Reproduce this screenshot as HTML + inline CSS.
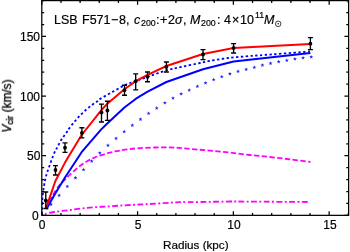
<!DOCTYPE html>
<html><head><meta charset="utf-8"><style>
html,body{margin:0;padding:0;background:#fff}
body{width:350px;height:252px;position:relative;overflow:hidden;font-family:"Liberation Sans",sans-serif;color:#000}
.t{position:absolute;white-space:nowrap;line-height:1;will-change:transform;-webkit-text-stroke:0.2px #000}
.tk{font-size:12px}
.xl{top:219.15px;transform:translateX(-50%)}
.yl{transform:translateY(-50%)}
#ylab sub{font-size:8.5px;line-height:0;font-style:normal;vertical-align:-2.4px}
</style></head><body>
<svg width="350" height="252" viewBox="0 0 350 252" style="position:absolute;left:0;top:0"><defs><clipPath id="cp"><rect x="41.8" y="0.6" width="306.85" height="214.75"/></clipPath></defs><g clip-path="url(#cp)" fill="none"><path d="M45.00,213.90 C46.50,213.58 49.83,212.65 54.00,212.00 C58.17,211.35 64.00,210.73 70.00,210.00 C76.00,209.27 83.33,208.22 90.00,207.60 C96.67,206.98 103.33,206.73 110.00,206.30 C116.67,205.87 123.33,205.38 130.00,205.00 C136.67,204.62 143.33,204.38 150.00,204.00 C156.67,203.62 165.00,203.00 170.00,202.70 C175.00,202.40 175.00,202.32 180.00,202.20 C185.00,202.08 191.67,202.12 200.00,202.00 C208.33,201.88 221.67,201.57 230.00,201.50 C238.33,201.43 237.00,201.52 250.00,201.60 C263.00,201.68 298.33,201.93 308.00,202.00" stroke="#ff00ff" stroke-width="1.8" stroke-dasharray="2,2.4,5.85,2.4"/><path d="M46.00,209.00 C46.83,207.25 49.33,201.67 51.00,198.50 C52.67,195.33 54.42,192.42 56.00,190.00 C57.58,187.58 58.97,185.77 60.50,184.00 C62.03,182.23 63.62,180.97 65.20,179.40 C66.78,177.83 68.20,176.30 70.00,174.60 C71.80,172.90 74.00,170.90 76.00,169.20 C78.00,167.50 80.00,165.80 82.00,164.40 C84.00,163.00 86.00,161.90 88.00,160.80 C90.00,159.70 92.00,158.67 94.00,157.80 C96.00,156.93 97.33,156.47 100.00,155.60 C102.67,154.73 106.67,153.45 110.00,152.60 C113.33,151.75 115.00,151.25 120.00,150.50 C125.00,149.75 131.67,148.62 140.00,148.10 C148.33,147.58 161.67,147.25 170.00,147.40 C178.33,147.55 183.33,148.47 190.00,149.00 C196.67,149.53 203.33,150.00 210.00,150.60 C216.67,151.20 223.33,151.87 230.00,152.60 C236.67,153.33 243.33,154.27 250.00,155.00 C256.67,155.73 263.33,156.27 270.00,157.00 C276.67,157.73 283.27,158.57 290.00,159.40 C296.73,160.23 307.00,161.57 310.40,162.00" stroke="#ff00ff" stroke-width="1.8" stroke-dasharray="5.4,2.38"/><g fill="#1f1fff" stroke="none"><path d="M311.20,54.90 L311.70,56.31 L313.20,56.35 L312.01,57.26 L312.43,58.70 L311.20,57.85 L309.97,58.70 L310.39,57.26 L309.20,56.35 L310.70,56.31Z"/><path d="M303.07,55.80 L303.57,57.21 L305.07,57.25 L303.88,58.16 L304.30,59.60 L303.07,58.75 L301.84,59.60 L302.26,58.16 L301.07,57.25 L302.57,57.21Z"/><path d="M294.94,56.90 L295.44,58.31 L296.94,58.35 L295.75,59.26 L296.17,60.70 L294.94,59.85 L293.71,60.70 L294.13,59.26 L292.94,58.35 L294.44,58.31Z"/><path d="M286.81,58.30 L287.31,59.71 L288.81,59.75 L287.62,60.66 L288.04,62.10 L286.81,61.25 L285.58,62.10 L286.00,60.66 L284.81,59.75 L286.31,59.71Z"/><path d="M278.68,59.60 L279.18,61.01 L280.68,61.05 L279.49,61.96 L279.91,63.40 L278.68,62.55 L277.45,63.40 L277.87,61.96 L276.68,61.05 L278.18,61.01Z"/><path d="M270.55,61.20 L271.05,62.61 L272.55,62.65 L271.36,63.56 L271.78,65.00 L270.55,64.15 L269.32,65.00 L269.74,63.56 L268.55,62.65 L270.05,62.61Z"/><path d="M262.42,63.10 L262.92,64.51 L264.42,64.55 L263.23,65.46 L263.65,66.90 L262.42,66.05 L261.19,66.90 L261.61,65.46 L260.42,64.55 L261.92,64.51Z"/><path d="M254.29,65.30 L254.79,66.71 L256.29,66.75 L255.10,67.66 L255.52,69.10 L254.29,68.25 L253.06,69.10 L253.48,67.66 L252.29,66.75 L253.79,66.71Z"/><path d="M246.16,67.30 L246.66,68.71 L248.16,68.75 L246.97,69.66 L247.39,71.10 L246.16,70.25 L244.93,71.10 L245.35,69.66 L244.16,68.75 L245.66,68.71Z"/><path d="M238.03,69.30 L238.53,70.71 L240.03,70.75 L238.84,71.66 L239.26,73.10 L238.03,72.25 L236.80,73.10 L237.22,71.66 L236.03,70.75 L237.53,70.71Z"/><path d="M229.90,71.70 L230.40,73.11 L231.90,73.15 L230.71,74.06 L231.13,75.50 L229.90,74.65 L228.67,75.50 L229.09,74.06 L227.90,73.15 L229.40,73.11Z"/><path d="M221.77,74.50 L222.27,75.91 L223.77,75.95 L222.58,76.86 L223.00,78.30 L221.77,77.45 L220.54,78.30 L220.96,76.86 L219.77,75.95 L221.27,75.91Z"/><path d="M213.64,77.50 L214.14,78.91 L215.64,78.95 L214.45,79.86 L214.87,81.30 L213.64,80.45 L212.41,81.30 L212.83,79.86 L211.64,78.95 L213.14,78.91Z"/><path d="M205.51,80.90 L206.01,82.31 L207.51,82.35 L206.32,83.26 L206.74,84.70 L205.51,83.85 L204.28,84.70 L204.70,83.26 L203.51,82.35 L205.01,82.31Z"/><path d="M197.38,84.30 L197.88,85.71 L199.38,85.75 L198.19,86.66 L198.61,88.10 L197.38,87.25 L196.15,88.10 L196.57,86.66 L195.38,85.75 L196.88,85.71Z"/><path d="M189.25,88.00 L189.75,89.41 L191.25,89.45 L190.06,90.36 L190.48,91.80 L189.25,90.95 L188.02,91.80 L188.44,90.36 L187.25,89.45 L188.75,89.41Z"/><path d="M181.12,91.80 L181.62,93.21 L183.12,93.25 L181.93,94.16 L182.35,95.60 L181.12,94.75 L179.89,95.60 L180.31,94.16 L179.12,93.25 L180.62,93.21Z"/><path d="M172.99,96.00 L173.49,97.41 L174.99,97.45 L173.80,98.36 L174.22,99.80 L172.99,98.95 L171.76,99.80 L172.18,98.36 L170.99,97.45 L172.49,97.41Z"/><path d="M164.86,100.80 L165.36,102.21 L166.86,102.25 L165.67,103.16 L166.09,104.60 L164.86,103.75 L163.63,104.60 L164.05,103.16 L162.86,102.25 L164.36,102.21Z"/><path d="M156.73,106.00 L157.23,107.41 L158.73,107.45 L157.54,108.36 L157.96,109.80 L156.73,108.95 L155.50,109.80 L155.92,108.36 L154.73,107.45 L156.23,107.41Z"/><path d="M148.60,111.30 L149.10,112.71 L150.60,112.75 L149.41,113.66 L149.83,115.10 L148.60,114.25 L147.37,115.10 L147.79,113.66 L146.60,112.75 L148.10,112.71Z"/><path d="M140.47,117.20 L140.97,118.61 L142.47,118.65 L141.28,119.56 L141.70,121.00 L140.47,120.15 L139.24,121.00 L139.66,119.56 L138.47,118.65 L139.97,118.61Z"/><path d="M132.34,123.20 L132.84,124.61 L134.34,124.65 L133.15,125.56 L133.57,127.00 L132.34,126.15 L131.11,127.00 L131.53,125.56 L130.34,124.65 L131.84,124.61Z"/><path d="M124.21,129.50 L124.71,130.91 L126.21,130.95 L125.02,131.86 L125.44,133.30 L124.21,132.45 L122.98,133.30 L123.40,131.86 L122.21,130.95 L123.71,130.91Z"/><path d="M116.08,136.30 L116.58,137.71 L118.08,137.75 L116.89,138.66 L117.31,140.10 L116.08,139.25 L114.85,140.10 L115.27,138.66 L114.08,137.75 L115.58,137.71Z"/><path d="M107.95,143.30 L108.45,144.71 L109.95,144.75 L108.76,145.66 L109.18,147.10 L107.95,146.25 L106.72,147.10 L107.14,145.66 L105.95,144.75 L107.45,144.71Z"/><path d="M99.82,150.90 L100.32,152.31 L101.82,152.35 L100.63,153.26 L101.05,154.70 L99.82,153.85 L98.59,154.70 L99.01,153.26 L97.82,152.35 L99.32,152.31Z"/><path d="M91.69,159.10 L92.19,160.51 L93.69,160.55 L92.50,161.46 L92.92,162.90 L91.69,162.05 L90.46,162.90 L90.88,161.46 L89.69,160.55 L91.19,160.51Z"/><path d="M83.56,167.50 L84.06,168.91 L85.56,168.95 L84.37,169.86 L84.79,171.30 L83.56,170.45 L82.33,171.30 L82.75,169.86 L81.56,168.95 L83.06,168.91Z"/><path d="M75.43,175.70 L75.93,177.11 L77.43,177.15 L76.24,178.06 L76.66,179.50 L75.43,178.65 L74.20,179.50 L74.62,178.06 L73.43,177.15 L74.93,177.11Z"/><path d="M67.30,184.40 L67.80,185.81 L69.30,185.85 L68.11,186.76 L68.53,188.20 L67.30,187.35 L66.07,188.20 L66.49,186.76 L65.30,185.85 L66.80,185.81Z"/><path d="M59.17,193.30 L59.67,194.71 L61.17,194.75 L59.98,195.66 L60.40,197.10 L59.17,196.25 L57.94,197.10 L58.36,195.66 L57.17,194.75 L58.67,194.71Z"/><path d="M51.04,202.30 L51.54,203.71 L53.04,203.75 L51.85,204.66 L52.27,206.10 L51.04,205.25 L49.81,206.10 L50.23,204.66 L49.04,203.75 L50.54,203.71Z"/></g><path d="M41.90,214.50 C41.98,211.92 42.05,203.75 42.40,199.00 C42.75,194.25 43.47,189.50 44.00,186.00 C44.53,182.50 45.02,180.42 45.60,178.00 C46.18,175.58 46.68,174.00 47.50,171.50 C48.32,169.00 49.58,165.58 50.50,163.00 C51.42,160.42 52.17,158.08 53.00,156.00 C53.83,153.92 54.75,152.00 55.50,150.50 C56.25,149.00 56.58,148.70 57.50,147.00 C58.42,145.30 59.92,142.13 61.00,140.30 C62.08,138.47 62.97,137.47 64.00,136.00 C65.03,134.53 66.37,132.73 67.20,131.50 C68.03,130.27 67.80,130.22 69.00,128.60 C70.20,126.98 72.50,124.03 74.40,121.80 C76.30,119.57 78.30,117.33 80.40,115.20 C82.50,113.07 84.90,110.83 87.00,109.00 C89.10,107.17 91.20,105.53 93.00,104.20 C94.80,102.87 96.57,101.90 97.80,101.00 C99.03,100.10 97.87,100.37 100.40,98.80 C102.93,97.23 108.90,93.90 113.00,91.60 C117.10,89.30 121.40,86.70 125.00,85.00 C128.60,83.30 131.27,82.60 134.60,81.40 C137.93,80.20 139.77,79.62 145.00,77.80 C150.23,75.98 159.83,72.35 166.00,70.50 C172.17,68.65 176.33,67.95 182.00,66.70 C187.67,65.45 195.33,63.98 200.00,63.00 C204.67,62.02 205.00,61.67 210.00,60.80 C215.00,59.93 223.33,58.60 230.00,57.80 C236.67,57.00 245.00,56.42 250.00,56.00 C255.00,55.58 250.00,56.05 260.00,55.30 C270.00,54.55 301.67,52.13 310.00,51.50" stroke="#0000ff" stroke-width="1.8" stroke-dasharray="2.4,2.4"/><polyline points="46.5,209.0 55.4,193.3 65.0,177.5 81.6,152.2 101.0,129.6 107.0,123.8 124.4,107.5 136.0,98.7 147.6,91.6 166.4,82.0 203.0,69.2 233.6,61.5 310.4,53.0" stroke="#0000ff" stroke-width="2" stroke-linejoin="round"/><polyline points="46.3,207.3 55.4,181.0 65.0,162.6 81.6,135.0 101.0,110.6 107.0,104.0 124.4,89.3 136.0,81.0 147.6,74.8 166.4,66.0 203.0,54.0 233.6,48.0 310.4,44.0" stroke="#ff0000" stroke-width="2" stroke-linejoin="round"/><g stroke="#000" stroke-width="1.35" fill="#000"><path d="M45.8,192.0V208.5M43.3,192.0H48.3M43.3,208.5H48.3"/><ellipse cx="45.8" cy="200.4" rx="1.9" ry="2.0" stroke="none"/><path d="M55.5,165.6V175.0M53.0,165.6H58.0M53.0,175.0H58.0"/><ellipse cx="55.5" cy="170.0" rx="1.9" ry="2.0" stroke="none"/><path d="M65.0,142.8V152.4M62.5,142.8H67.5M62.5,152.4H67.5"/><ellipse cx="65.0" cy="147.8" rx="1.9" ry="2.0" stroke="none"/><path d="M81.9,127.7V137.9M79.4,127.7H84.4M79.4,137.9H84.4"/><ellipse cx="81.9" cy="133.1" rx="1.9" ry="2.0" stroke="none"/><path d="M101.5,104.1V122.0M99.0,104.1H104.0M99.0,122.0H104.0"/><ellipse cx="101.5" cy="112.4" rx="1.9" ry="2.0" stroke="none"/><path d="M107.4,101.2V120.3M104.9,101.2H109.9M104.9,120.3H109.9"/><ellipse cx="107.4" cy="110.5" rx="1.9" ry="2.0" stroke="none"/><path d="M124.5,85.2V95.2M122.0,85.2H127.0M122.0,95.2H127.0"/><ellipse cx="124.5" cy="90.3" rx="1.9" ry="2.0" stroke="none"/><path d="M135.7,73.9V89.8M133.2,73.9H138.2M133.2,89.8H138.2"/><ellipse cx="135.7" cy="81.3" rx="1.9" ry="2.0" stroke="none"/><path d="M147.5,72.0V81.7M145.0,72.0H150.0M145.0,81.7H150.0"/><ellipse cx="147.5" cy="76.8" rx="1.9" ry="2.0" stroke="none"/><path d="M166.4,62.0V72.0M163.9,62.0H168.9M163.9,72.0H168.9"/><ellipse cx="166.4" cy="67.0" rx="1.9" ry="2.0" stroke="none"/><path d="M203.0,49.6V59.6M200.5,49.6H205.5M200.5,59.6H205.5"/><ellipse cx="203.0" cy="54.6" rx="1.9" ry="2.0" stroke="none"/><path d="M233.6,43.6V53.0M231.1,43.6H236.1M231.1,53.0H236.1"/><ellipse cx="233.6" cy="48.0" rx="1.9" ry="2.0" stroke="none"/><path d="M310.4,37.6V49.6M307.9,37.6H312.9M307.9,49.6H312.9"/><ellipse cx="310.4" cy="43.8" rx="1.9" ry="2.0" stroke="none"/></g></g><g stroke="#000" stroke-width="1.25" fill="none"><rect x="41.8" y="0.6" width="306.84999999999997" height="214.75"/><path d="M41.80,215.35v-4.2M41.80,0.6v4.2M60.96,215.35v-2.4M60.96,0.6v2.4M80.11,215.35v-2.4M80.11,0.6v2.4M99.27,215.35v-2.4M99.27,0.6v2.4M118.43,215.35v-2.4M118.43,0.6v2.4M137.58,215.35v-4.2M137.58,0.6v4.2M156.74,215.35v-2.4M156.74,0.6v2.4M175.90,215.35v-2.4M175.90,0.6v2.4M195.06,215.35v-2.4M195.06,0.6v2.4M214.21,215.35v-2.4M214.21,0.6v2.4M233.37,215.35v-4.2M233.37,0.6v4.2M252.53,215.35v-2.4M252.53,0.6v2.4M271.68,215.35v-2.4M271.68,0.6v2.4M290.84,215.35v-2.4M290.84,0.6v2.4M310.00,215.35v-2.4M310.00,0.6v2.4M329.16,215.35v-4.2M329.16,0.6v4.2M348.31,215.35v-2.4M348.31,0.6v2.4M41.8,215.35h4.2M348.65,215.35h-4.2M41.8,203.42h2.4M348.65,203.42h-2.4M41.8,191.50h2.4M348.65,191.50h-2.4M41.8,179.57h2.4M348.65,179.57h-2.4M41.8,167.64h2.4M348.65,167.64h-2.4M41.8,155.71h4.2M348.65,155.71h-4.2M41.8,143.79h2.4M348.65,143.79h-2.4M41.8,131.86h2.4M348.65,131.86h-2.4M41.8,119.93h2.4M348.65,119.93h-2.4M41.8,108.01h2.4M348.65,108.01h-2.4M41.8,96.08h4.2M348.65,96.08h-4.2M41.8,84.15h2.4M348.65,84.15h-2.4M41.8,72.23h2.4M348.65,72.23h-2.4M41.8,60.30h2.4M348.65,60.30h-2.4M41.8,48.37h2.4M348.65,48.37h-2.4M41.8,36.44h4.2M348.65,36.44h-4.2M41.8,24.52h2.4M348.65,24.52h-2.4M41.8,12.59h2.4M348.65,12.59h-2.4M41.8,0.66h2.4M348.65,0.66h-2.4"/></g></svg>
<div class="t tk xl" style="left:41.8px">0</div>
<div class="t tk xl" style="left:137.6px">5</div>
<div class="t tk xl" style="left:233.7px">10</div>
<div class="t tk xl" style="left:329.5px">15</div>
<div class="t tk yl" style="right:311.5px;top:215.9px">0</div>
<div class="t tk yl" style="right:310.0px;top:156.1px">50</div>
<div class="t tk yl" style="right:310.0px;top:96.5px">100</div>
<div class="t tk yl" style="right:310.0px;top:36.8px">150</div>
<span class="t" style="left:54.00px;top:13.70px;font-size:12.5px;">LSB</span><span class="t" style="left:82.10px;top:13.70px;font-size:12.5px;">F571</span><span class="t" style="left:111.47px;top:13.70px;font-size:12.5px;">&#8722;</span><span class="t" style="left:118.80px;top:13.70px;font-size:12.5px;">8</span><span class="t" style="left:125.58px;top:13.70px;font-size:12.5px;">,</span><span class="t" style="left:133.93px;top:13.70px;font-size:12.5px;font-style:italic;">c</span><span class="t" style="left:140.60px;top:18.78px;font-size:8.8px;">200</span><span class="t" style="left:155.78px;top:13.70px;font-size:12.5px;">:</span><span class="t" style="left:159.68px;top:13.70px;font-size:12.5px;">+</span><span class="t" style="left:167.97px;top:13.70px;font-size:12.5px;">2</span><span class="t" style="left:175.03px;top:13.70px;font-size:12.5px;font-style:italic;">&sigma;</span><span class="t" style="left:183.47px;top:13.70px;font-size:12.5px;">,</span><span class="t" style="left:190.32px;top:13.70px;font-size:12.5px;font-style:italic;">M</span><span class="t" style="left:201.40px;top:18.78px;font-size:8.8px;">200</span><span class="t" style="left:216.97px;top:13.70px;font-size:12.5px;">:</span><span class="t" style="left:224.45px;top:13.70px;font-size:12.5px;">4</span><span class="t" style="left:231.72px;top:13.70px;font-size:12.5px;">&times;</span><span class="t" style="left:240.30px;top:13.70px;font-size:12.5px;">1</span><span class="t" style="left:246.60px;top:13.70px;font-size:12.5px;">0</span><span class="t" style="left:254.57px;top:11.30px;font-size:8.8px;">11</span><span class="t" style="left:263.93px;top:13.70px;font-size:12.5px;font-style:italic;">M</span><svg class="t" style="left:274px;top:19px" width="10" height="10" viewBox="0 0 10 10"><circle cx="4.2" cy="4.85" r="2.75" fill="none" stroke="#000" stroke-width="0.75"/><circle cx="4.2" cy="4.85" r="0.75" fill="#000"/></svg>
<div class="t" id="xlab" style="left:162.5px;top:238.55px;font-size:11.7px">Radius (kpc)</div>
<div class="t" id="ylab" style="left:7.8px;top:105.8px;font-size:11.9px;-webkit-text-stroke:0.3px #000;transform:translate(-50%,-50%) rotate(-90deg)"><i>V</i><sub>cir</sub> (km/s)</div>
</body></html>
